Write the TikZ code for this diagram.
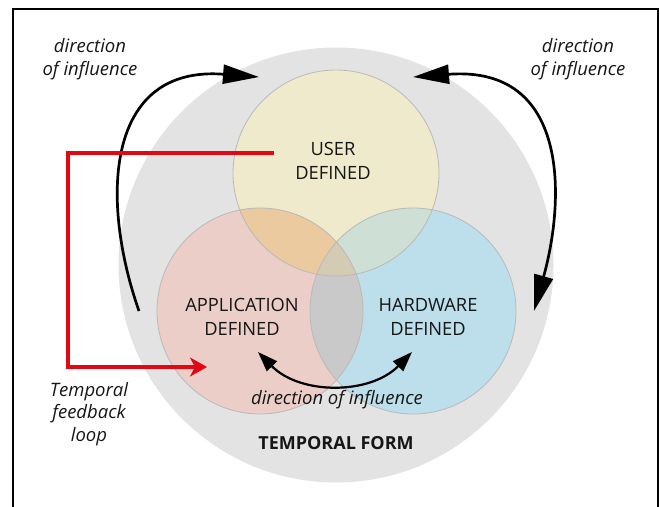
\documentclass[tikz,border=0pt]{standalone}
\usepackage{fontspec}
\setmainfont{Open Sans}
\usetikzlibrary{arrows.meta}

\definecolor{formgray}{RGB}{227,227,227}
\definecolor{userfill}{RGB}{240,234,205}
\definecolor{appfill}{RGB}{236,206,200}
\definecolor{hwfill}{RGB}{188,223,235}
\definecolor{userapp}{RGB}{236,202,160}
\definecolor{userhw}{RGB}{206,224,213}
\definecolor{apphw}{RGB}{201,201,201}
\definecolor{allthree}{RGB}{212,203,180}
\definecolor{rimgray}{RGB}{185,185,185}
\definecolor{loopred}{RGB}{227,6,19}
\definecolor{ink}{RGB}{22,22,22}

\begin{document}
\begin{tikzpicture}[x=1pt,y=-1pt,
  venn/.style={circle,minimum size=206pt,inner sep=0pt},
  lbl/.style={align=center,text=ink,font=\fontsize{18.5}{22.5}\selectfont\itshape},
  caps/.style={align=center,text=ink,font=\fontsize{18.3}{23.5}\selectfont},
  flow/.style={line width=2.7pt,draw=black},
  loopline/.style={line width=4pt,draw=loopred,line join=miter}]
\useasboundingbox (0,0) rectangle (660,506);

% outer temporal-form disc
\fill[formgray] (336,265) circle (217.5);

% the three sets
\node[venn,fill=userfill] (user) at (336,173) {};
\node[venn,fill=appfill]  (app)  at (260,311) {};
\node[venn,fill=hwfill]   (hw)   at (413,311) {};

% pairwise overlaps
\begin{scope}
  \clip (user.center) circle (103);
  \fill[userapp] (app.center) circle (103);
  \fill[userhw] (hw.center) circle (103);
\end{scope}
\begin{scope}
  \clip (app.center) circle (103);
  \fill[apphw] (hw.center) circle (103);
\end{scope}
\begin{scope}
  \clip (user.center) circle (103);
  \clip (app.center) circle (103);
  \fill[allthree] (hw.center) circle (103);
\end{scope}

% set outlines
\foreach \c in {user,app,hw}
  \draw[rimgray,line width=0.8pt] (\c.center) circle (103);

% frame, open at the bottom
\draw[line width=2pt] (13,560) -- (13,9) -- (658,9) -- (658,560);

% labels
\node[caps] (userlbl) at (333,161) {USER\\DEFINED};
\node[caps] (applbl) at (242,317) {APPLICATION\\DEFINED};
\node[caps] (hwlbl) at (428,317) {HARDWARE\\DEFINED};
\node[caps,font=\fontsize{18}{23}\selectfont\bfseries] (formlbl) at (336,443) {TEMPORAL FORM};
\node[lbl] (dirleft) at (90,59) {direction\\of influence};
\node[lbl] (dirright) at (578,59) {direction\\of influence};
\node[lbl] (dirbottom) at (337,400) {direction of influence};
\node[lbl] (looplbl) at (89,414) {Temporal\\feedback\\loop};

% influence arrows
\coordinate (lstart) at (139,311);
\coordinate (ltip) at (259,77);
\coordinate (rtop) at (413,77);
\coordinate (rbot) at (534,311);
\coordinate (btl) at (258,352);
\coordinate (btr) at (412,352);

\draw[flow,-{Triangle[length=36pt,width=19pt]}]
  (lstart) .. controls (100,200) and (105,65) .. (ltip);
\draw[flow,{Triangle[length=36pt,width=19pt]}-{Triangle[length=36pt,width=19pt]}]
  (rtop) .. controls (570,65) and (565,200) .. (rbot);
\draw[line width=2.2pt,{Triangle[length=20pt,width=14pt]}-{Triangle[length=20pt,width=14pt]}]
  (btl) .. controls (300,395) and (370,395) .. (btr);

% feedback loop
\coordinate (fbstart) at (274,153);
\coordinate (fbend) at (207,367);
\draw[loopline,-{Stealth[length=17pt,width=19pt,inset=5pt]}]
  (fbstart) -- ++(-206,0) |- (fbend);
\end{tikzpicture}
\end{document}
